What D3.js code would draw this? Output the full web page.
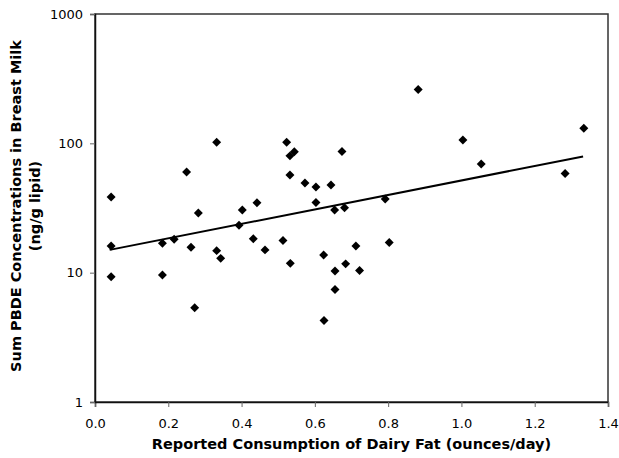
<!DOCTYPE html>
<html>
<head>
<meta charset="utf-8">
<script src="https://cdn.jsdelivr.net/npm/d3@7"></script>
<style>
  body { margin: 0; background: #fff; }
  text { font-family: "DejaVu Sans", Verdana, sans-serif; }
</style>
</head>
<body>
<div id="chart"></div>
<script>
// dairy fat (oz/day) vs sum PBDE (ng/g lipid)
const dairyFat = [
  0.044, 0.044, 0.044, 0.184, 0.184, 0.216, 0.25, 0.262, 0.272, 0.282,
  0.332, 0.332, 0.343, 0.393, 0.402, 0.432, 0.442, 0.464, 0.513, 0.523,
  0.532, 0.532, 0.533, 0.544, 0.573, 0.603, 0.603, 0.624, 0.625, 0.644,
  0.654, 0.655, 0.655, 0.674, 0.681, 0.684, 0.712, 0.722, 0.792, 0.803,
  0.882, 1.004, 1.054, 1.283, 1.334
]
const pbde = [
  38.4, 16.1, 9.3, 16.9, 9.6, 18.1, 60, 15.7, 5.35, 28.9,
  102, 14.8, 12.9, 23.3, 30.5, 18.3, 34.7, 15.0, 17.7, 102,
  80, 56.9, 11.8, 86, 49.3, 45.9, 34.9, 13.7, 4.27, 47.6,
  30.5, 10.3, 7.42, 86.5, 31.8, 11.7, 16.1, 10.4, 37.1, 17.1,
  261, 106, 69.2, 58.5, 131
]
// fitted trend line end points
const trendX = [0.04, 1.332]
const trendY = [15.0, 79.2]

const xTicks = [0, 0.2, 0.4, 0.6, 0.8, 1.0, 1.2, 1.4]
const yTicks = [1, 10, 100, 1000]

const width = 619, height = 458
const margin = {top: 14, right: 11, bottom: 56, left: 95}

const svg = d3.select('#chart')
    .append('svg')
    .attr('width', width)
    .attr('height', height)

const x = d3.scaleLinear()
    .domain([0, 1.4])
    .range([margin.left, width - margin.right])
const y = d3.scaleLog()
    .domain([1, 1000])
    .range([height - margin.bottom, margin.top])

// plot border
svg.append('rect')
    .attr('x', margin.left)
    .attr('y', margin.top)
    .attr('width', width - margin.left - margin.right)
    .attr('height', height - margin.top - margin.bottom)
    .attr('fill', 'none')
    .attr('stroke', '#333')
    .attr('stroke-width', 1.5)

const xAxis = svg.append('g')
    .attr('transform', `translate(0, ${height - margin.bottom})`)
    .call(d3.axisBottom(x).tickValues(xTicks).tickFormat(d3.format('.1f')).tickSize(5).tickPadding(12))
const yAxis = svg.append('g')
    .attr('transform', `translate(${margin.left}, 0)`)
    .call(d3.axisLeft(y).tickValues(yTicks).tickFormat(d3.format('d')).tickSize(5).tickPadding(7))

for (const ax of [xAxis, yAxis]) {
    ax.select('.domain').attr('stroke', '#111').attr('stroke-width', 1.5)
    ax.selectAll('.tick line').attr('stroke', '#666')
    ax.selectAll('.tick text')
        .attr('fill', '#000')
        .style('font-family', '"DejaVu Sans", Verdana, sans-serif')
        .style('font-size', '13px')
}

// trend line
const trend = trendX.map((d, i) => [d, trendY[i]])
svg.append('path')
    .datum(trend)
    .attr('fill', 'none')
    .attr('stroke', '#000')
    .attr('stroke-width', 2)
    .attr('d', d3.line().x(d => x(d[0])).y(d => y(d[1])))

// diamonds
const diamond = d3.symbol().type(d3.symbolSquare).size(40)
svg.append('g')
    .selectAll('path')
    .data(dairyFat.map((d, i) => [d, pbde[i]]))
    .join('path')
    .attr('d', diamond)
    .attr('fill', '#000')
    .attr('transform', d => `translate(${x(d[0])}, ${y(d[1])}) rotate(45)`)

// axis titles
svg.append('text')
    .attr('x', (margin.left + width - margin.right) / 2)
    .attr('y', 449)
    .attr('text-anchor', 'middle')
    .attr('font-size', '14.5px')
    .attr('font-weight', 'bold')
    .text('Reported Consumption of Dairy Fat (ounces/day)')

const yTitle = svg.append('text')
    .attr('transform', `translate(0, ${(margin.top + height - margin.bottom) / 2 - 2}) rotate(-90)`)
    .attr('text-anchor', 'middle')
    .attr('font-size', '14.5px')
    .attr('font-weight', 'bold')
yTitle.append('tspan').attr('x', 0).attr('y', 21).text('Sum PBDE Concentrations in Breast Milk')
yTitle.append('tspan').attr('x', 0).attr('y', 40).text('(ng/g lipid)')
</script>
</body>
</html>
